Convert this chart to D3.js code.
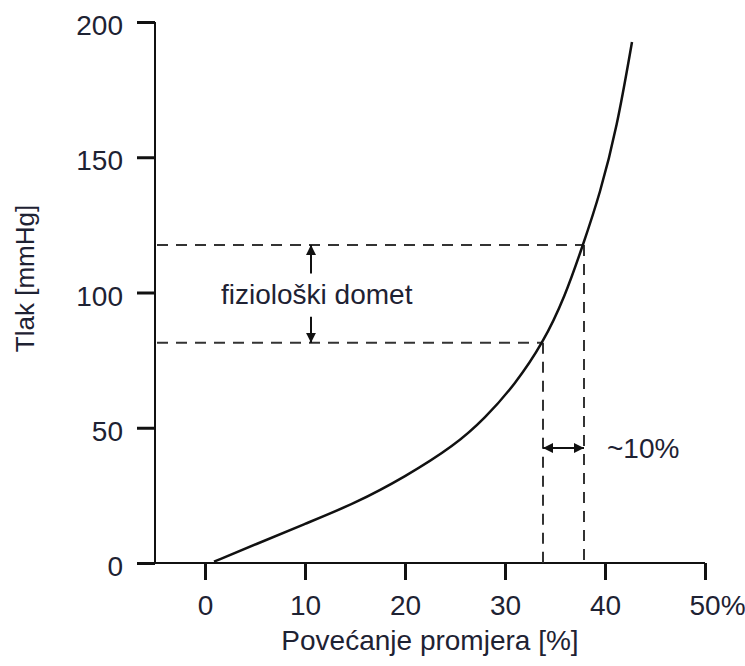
<!DOCTYPE html>
<html>
<head>
<meta charset="utf-8">
<script src="https://cdn.jsdelivr.net/npm/d3@7"></script>
<style>
  body { margin: 0; background: #fff; }
  text { font-family: "Liberation Sans", Arial, sans-serif; fill: #1e2233; }
</style>
</head>
<body>
<svg id="chart" width="745" height="666"></svg>
<script>
// curve: diameter increase [%] vs pressure [mmHg]
const diameterIncrease = [0.9, 5, 10, 15, 20, 25, 28, 31, 33.8, 36, 37.8, 39.5, 41.2, 42.7];
const pressure = [0.5, 6.8, 14.5, 22, 31.8, 43.5, 53.5, 66, 81.3, 98.5, 117.6, 136.5, 161, 192.6];

const xTicks = [0, 10, 20, 30, 40, 50];
const yTicks = [0, 50, 100, 150, 200];

// physiological range and the matching diameter change
const rangePressure = [81.4, 117.6];
const rangeDiameter = [33.8, 37.9];
const arrowX = 10.6;
const arrowInner = [91, 107];
const spanArrowY = 42.5;

const svg = d3.select('#chart');
const fontSize = 28;

const x = d3.scaleLinear().domain([-5, 50]).range([155, 705]);
const y = d3.scaleLinear().domain([0, 200]).range([563, 22]);

const defs = svg.append('defs');
defs.append('marker')
    .attr('id', 'head')
    .attr('viewBox', '0 0 10 10')
    .attr('refX', 10)
    .attr('refY', 5)
    .attr('markerWidth', 10)
    .attr('markerHeight', 10)
    .attr('markerUnits', 'userSpaceOnUse')
    .attr('orient', 'auto-start-reverse')
  .append('path')
    .attr('d', 'M0,0 L10,5 L0,10 Z')
    .attr('fill', '#111');

// y axis
const yAxis = svg.append('g')
    .attr('transform', `translate(${x(-5)},0)`)
    .call(d3.axisLeft(y).tickValues(yTicks).tickSize(18).tickPadding(14));
yAxis.select('.domain').attr('d', `M0,${y(200)}V${y(0)}`)
    .attr('stroke', '#111').attr('stroke-width', 2);
yAxis.selectAll('.tick line').attr('stroke', '#111').attr('stroke-width', 3);
yAxis.selectAll('.tick text')
    .attr('font-size', fontSize)
    .attr('dy', '0.45em')
    .style('font-family', '"Liberation Sans", Arial, sans-serif');

// x axis
const xAxis = svg.append('g')
    .attr('transform', `translate(0,${y(0)})`)
    .call(d3.axisBottom(x).tickValues(xTicks).tickSize(17).tickPadding(14)
      .tickFormat(d => d === 50 ? '50%' : d));
xAxis.select('.domain').attr('d', `M${x(-5)},0H${x(50)}`)
    .attr('stroke', '#111').attr('stroke-width', 2);
xAxis.selectAll('.tick line').attr('stroke', '#111').attr('stroke-width', 3);
xAxis.selectAll('.tick text')
    .attr('font-size', fontSize)
    .attr('dy', '0.75em')
    .style('font-family', '"Liberation Sans", Arial, sans-serif')
    .filter(d => d === 50)
    .attr('text-anchor', 'start')
    .attr('x', -16);
svg.selectAll('.tick text').style('fill', '#1e2233');

// dashed guide lines
const dash = svg.append('g')
    .attr('stroke', '#333')
    .attr('stroke-width', 2)
    .attr('stroke-dasharray', '11,8')
    .attr('fill', 'none');
rangePressure.forEach((p, i) => {
  dash.append('line')
      .attr('x1', x(-5) + 2).attr('x2', x(rangeDiameter[i]))
      .attr('y1', y(p)).attr('y2', y(p));
  dash.append('line')
      .attr('x1', x(rangeDiameter[i])).attr('x2', x(rangeDiameter[i]))
      .attr('y1', y(p)).attr('y2', y(0));
});

// curve
const line = d3.line()
    .x(d => x(d[0]))
    .y(d => y(d[1]))
    .curve(d3.curveBasis);
svg.append('path')
    .datum(d3.zip(diameterIncrease, pressure))
    .attr('d', line)
    .attr('fill', 'none')
    .attr('stroke', '#111')
    .attr('stroke-width', 2.5);

// arrows for the physiological range
const arrows = svg.append('g').attr('stroke', '#111').attr('stroke-width', 2);
arrows.append('line')
    .attr('x1', x(arrowX)).attr('x2', x(arrowX))
    .attr('y1', y(arrowInner[1])).attr('y2', y(rangePressure[1]))
    .attr('marker-end', 'url(#head)');
arrows.append('line')
    .attr('x1', x(arrowX)).attr('x2', x(arrowX))
    .attr('y1', y(arrowInner[0])).attr('y2', y(rangePressure[0]))
    .attr('marker-end', 'url(#head)');
arrows.append('line')
    .attr('x1', x(rangeDiameter[0])).attr('x2', x(rangeDiameter[1]))
    .attr('y1', y(spanArrowY)).attr('y2', y(spanArrowY))
    .attr('marker-start', 'url(#head)')
    .attr('marker-end', 'url(#head)');

// labels
svg.append('text')
    .attr('x', 221)
    .attr('y', y((rangePressure[0] + rangePressure[1]) / 2))
    .attr('dy', '0.35em')
    .attr('font-size', fontSize)
    .text('fiziološki domet');

svg.append('text')
    .attr('x', 607)
    .attr('y', y(spanArrowY))
    .attr('dy', '0.35em')
    .attr('font-size', fontSize)
    .text('~10%');

svg.append('text')
    .attr('x', 430)
    .attr('y', 650)
    .attr('text-anchor', 'middle')
    .attr('font-size', fontSize)
    .text('Povećanje promjera [%]');

svg.append('text')
    .attr('transform', `translate(34,${(y(0) + y(200)) / 2 - 14}) rotate(-90)`)
    .attr('text-anchor', 'middle')
    .attr('font-size', 26)
    .text('Tlak [mmHg]');
</script>
</body>
</html>
